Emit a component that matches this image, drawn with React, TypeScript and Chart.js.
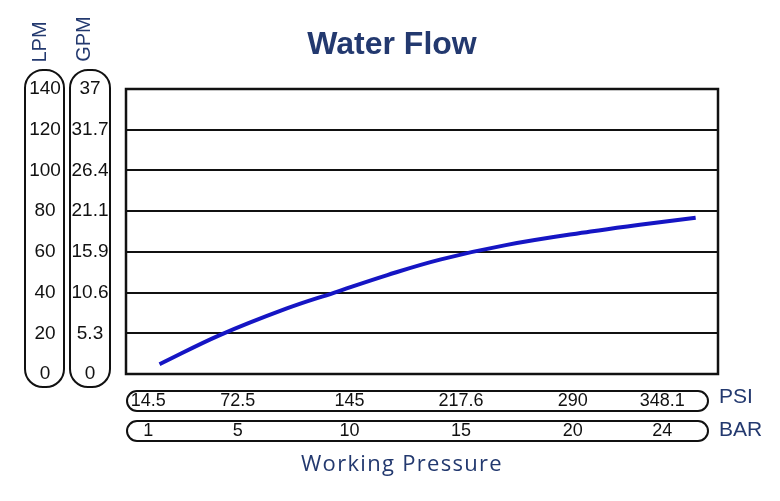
import React, { useEffect, useRef } from "react";
import { Chart, registerables } from "chart.js";

Chart.register(...registerables);

const barTicks = [1, 5, 10, 15, 20, 24];
const psiLabels = ["14.5", "72.5", "145", "217.6", "290", "348.1"];
const lpmTicks = [0, 20, 40, 60, 80, 100, 120, 140];
const gpmLabels = ["0", "5.3", "10.6", "15.9", "21.1", "26.4", "31.7", "37"];
const flowBar = [1.5, 4.2, 7.2, 9.3, 11.7, 14.1, 17.0, 20.8, 23.0, 25.5];
const flowLpm = [4.8, 19.1, 32.2, 39.9, 48.6, 56.3, 63.3, 70.0, 73.3, 76.8];

const NAVY = "#23396f";
const INK = "#111111";

const decorPlugin = {
  id: "decor",
  afterDraw(chart: any) {
    const ctx = chart.ctx as CanvasRenderingContext2D;
    const { chartArea } = chart;
    const xs = chart.scales.x;
    const ys = chart.scales.y;
    ctx.save();

    // plot box
    ctx.strokeStyle = INK;
    ctx.lineWidth = 2.5;
    ctx.strokeRect(chartArea.left, chartArea.top, chartArea.right - chartArea.left, chartArea.bottom - chartArea.top);

    // title
    ctx.fillStyle = NAVY;
    ctx.font = "bold 32px 'Liberation Sans', Arial, sans-serif";
    ctx.textAlign = "center";
    ctx.textBaseline = "middle";
    ctx.fillText("Water Flow", 392, 45);

    // left capsules
    ctx.lineWidth = 2;
    ctx.strokeStyle = INK;
    ctx.beginPath();
    (ctx as any).roundRect(25, 70, 39, 317, 18);
    ctx.stroke();
    ctx.beginPath();
    (ctx as any).roundRect(70, 70, 40, 317, 18);
    ctx.stroke();

    ctx.fillStyle = INK;
    ctx.font = "19px 'Liberation Sans', Arial, sans-serif";
    lpmTicks.forEach((v, i) => {
      const y = ys.getPixelForValue(v);
      ctx.fillText(String(v), 45, y);
      ctx.fillText(gpmLabels[i], 90, y);
    });

    // rotated unit labels
    ctx.fillStyle = NAVY;
    ctx.font = "20px 'Liberation Sans', Arial, sans-serif";
    ctx.save();
    ctx.translate(40, 42);
    ctx.rotate(-Math.PI / 2);
    ctx.fillText("LPM", 0, 0);
    ctx.restore();
    ctx.save();
    ctx.translate(84, 39);
    ctx.rotate(-Math.PI / 2);
    ctx.fillText("GPM", 0, 0);
    ctx.restore();

    // bottom capsules
    ctx.strokeStyle = INK;
    ctx.lineWidth = 2;
    ctx.beginPath();
    (ctx as any).roundRect(127, 391, 581, 20, 10);
    ctx.stroke();
    ctx.beginPath();
    (ctx as any).roundRect(127, 421, 581, 20, 10);
    ctx.stroke();

    ctx.fillStyle = INK;
    ctx.font = "18px 'Liberation Sans', Arial, sans-serif";
    barTicks.forEach((b, i) => {
      const x = xs.getPixelForValue(b);
      ctx.fillText(psiLabels[i], x, 401);
      ctx.fillText(String(b), x, 431);
    });

    ctx.fillStyle = NAVY;
    ctx.font = "21px 'Liberation Sans', Arial, sans-serif";
    ctx.textAlign = "left";
    ctx.fillText("PSI", 719, 397);
    ctx.fillText("BAR", 719, 430);

    ctx.textAlign = "center";
    ctx.font = "22px 'Open Sans', sans-serif";
    (ctx as any).letterSpacing = "1.3px";
    ctx.fillText("Working Pressure", 402, 465);
    (ctx as any).letterSpacing = "0px";

    ctx.restore();
  },
};

export default function App() {
  const ref = useRef<HTMLCanvasElement | null>(null);
  useEffect(() => {
    if (!ref.current) return;
    const chart = new Chart(ref.current, {
      type: "line",
      data: {
        datasets: [
          {
            data: flowBar.map((b, i) => ({ x: b, y: flowLpm[i] })),
            borderColor: "#1515c4",
            borderWidth: 4,
            pointRadius: 0,
            tension: 0.4,
            fill: false,
          },
        ],
      },
      options: {
        animation: false,
        responsive: false,
        devicePixelRatio: 1,
        layout: { padding: { left: 126, top: 89, right: 62, bottom: 127 } },
        plugins: { legend: { display: false }, tooltip: { enabled: false }, title: { display: false } },
        scales: {
          x: { type: "linear", min: 0, max: 26.5, display: false },
          y: {
            type: "linear",
            min: 0,
            max: 140,
            ticks: { display: false, stepSize: 20 },
            grid: { color: INK, lineWidth: 2, drawTicks: false },
            border: { display: false },
          },
        },
      },
      plugins: [decorPlugin],
    });
    return () => chart.destroy();
  }, []);
  return (
    <div style={{ position: "fixed", left: 0, top: 0, width: 780, height: 501, background: "#fff" }}>
      <canvas ref={ref} width={780} height={501} />
    </div>
  );
}
